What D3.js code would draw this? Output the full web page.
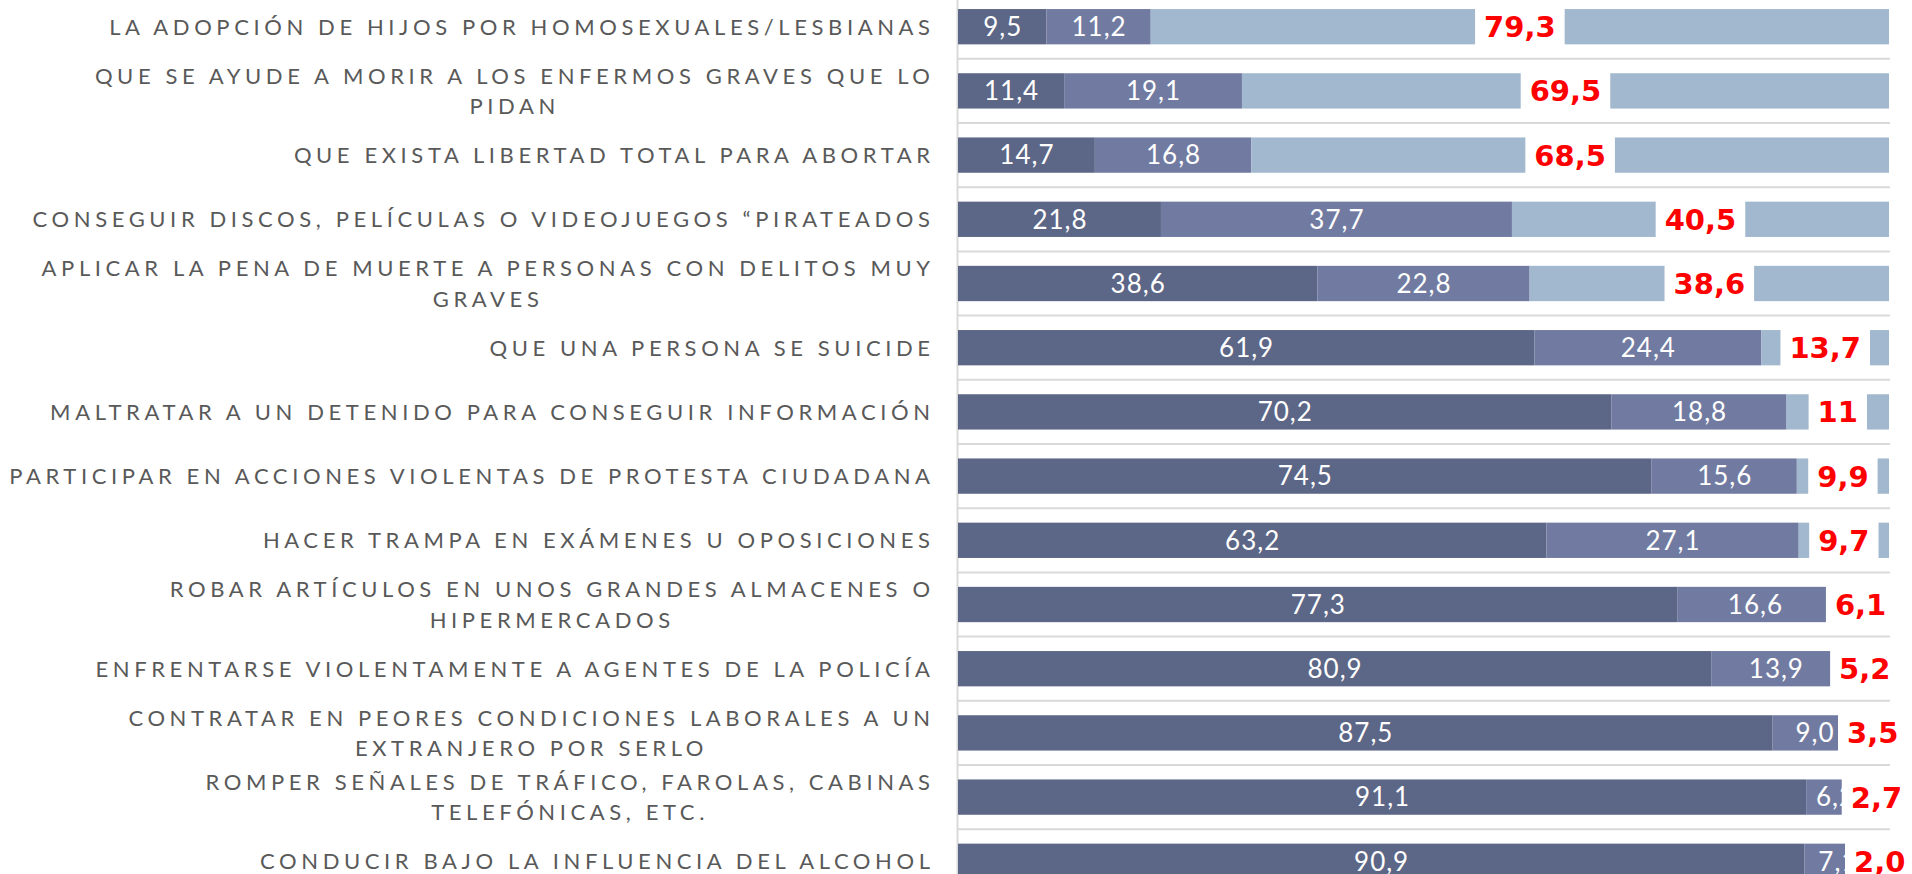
<!DOCTYPE html>
<html><head><meta charset="utf-8">
<script src="https://cdn.jsdelivr.net/npm/d3@7/dist/d3.min.js"></script>
<style>html,body{margin:0;padding:0;background:#fff;overflow:hidden}</style>
</head><body>
<svg id="chart" width="1912" height="874"></svg>
<script>
// ---- data ----
const categories = [
  "LA ADOPCIÓN DE HIJOS POR HOMOSEXUALES/LESBIANAS",
  "QUE SE AYUDE A MORIR A LOS ENFERMOS GRAVES QUE LO|PIDAN",
  "QUE EXISTA LIBERTAD TOTAL PARA ABORTAR",
  "CONSEGUIR DISCOS, PELÍCULAS O VIDEOJUEGOS “PIRATEADOS",
  "APLICAR LA PENA DE MUERTE A PERSONAS CON DELITOS MUY|GRAVES",
  "QUE UNA PERSONA SE SUICIDE",
  "MALTRATAR A UN DETENIDO PARA CONSEGUIR INFORMACIÓN",
  "PARTICIPAR EN ACCIONES VIOLENTAS DE PROTESTA CIUDADANA",
  "HACER TRAMPA EN EXÁMENES U OPOSICIONES",
  "ROBAR ARTÍCULOS EN UNOS GRANDES ALMACENES O|HIPERMERCADOS",
  "ENFRENTARSE VIOLENTAMENTE A AGENTES DE LA POLICÍA",
  "CONTRATAR EN PEORES CONDICIONES LABORALES A UN|EXTRANJERO POR SERLO",
  "ROMPER SEÑALES DE TRÁFICO, FAROLAS, CABINAS|TELEFÓNICAS, ETC.",
  "CONDUCIR BAJO LA INFLUENCIA DEL ALCOHOL"
];
const serie1 = [9.5, 11.4, 14.7, 21.8, 38.6, 61.9, 70.2, 74.5, 63.2, 77.3, 80.9, 87.5, 91.1, 90.9];
const serie2 = [11.2, 19.1, 16.8, 37.7, 22.8, 24.4, 18.8, 15.6, 27.1, 16.6, 13.9, 9.0, 6.2, 7.1];
const serie3 = [79.3, 69.5, 68.5, 40.5, 38.6, 13.7, 11, 9.9, 9.7, 6.1, 5.2, 3.5, 2.7, 2.0];
const serie3Labels = ["79,3","69,5","68,5","40,5","38,6","13,7","11","9,9","9,7","6,1","5,2","3,5","2,7","2,0"];
const seriesKeys = ["serie1", "serie2", "serie3"];
const xDomain = [0, 100];

// ---- layout ----
const W = 1912, H = 874;
const plotLeft = 958, plotRight = 1889;
const bandTop = -5.4, step = 64.2;
const colors = {serie1: "#5c6686", serie2: "#717ba1", serie3: "#a2b8cf"};

const rows = categories.map((c, i) => ({cat: c, serie1: serie1[i], serie2: serie2[i], serie3: serie3[i], lab3: serie3Labels[i]}));

const svg = d3.select("#chart");
const x = d3.scaleLinear().domain(xDomain).range([plotLeft, plotRight]);
const y = d3.scaleBand().domain(categories)
  .range([bandTop, bandTop + step * categories.length])
  .paddingInner(0.45).paddingOuter(0.225);

// gridlines at band boundaries
const gridYs = categories.slice(1).map(c => y(c) - y.step() * y.paddingInner() / 2);
svg.append("g").selectAll("line").data(gridYs).join("line")
  .attr("x1", plotLeft).attr("x2", plotRight + 1)
  .attr("y1", d => d).attr("y2", d => d)
  .attr("stroke", "#d9d9d9").attr("stroke-width", 2);

// axis
const axis = svg.append("g").attr("transform", `translate(${plotLeft - 1},0)`)
  .call(d3.axisLeft(y).tickSize(0).tickFormat(""));
axis.select(".domain").attr("stroke", "#d9d9d9").attr("stroke-width", 2);

// stacked bars
const stack = d3.stack().keys(seriesKeys)(rows);
const gBars = svg.append("g");
stack.forEach(layer => {
  gBars.append("g").attr("fill", colors[layer.key])
    .selectAll("rect").data(layer).join("rect")
    .attr("x", d => x(d[0]))
    .attr("width", d => x(d[1]) - x(d[0]))
    .attr("y", d => y(d.data.cat))
    .attr("height", y.bandwidth());
});

// white value labels for serie1 & serie2
const fmt = v => d3.format(".1f")(v).replace(".", ",");
const gLab = svg.append("g").attr("fill", "#fff")
  .attr("font-family", "Lato, 'Open Sans', sans-serif").attr("font-size", 26)
  .attr("letter-spacing", 1).attr("text-anchor", "middle");
stack.slice(0, 2).forEach(layer => {
  gLab.selectAll(null).data(layer).join("text")
    .attr("x", d => (x(d[0]) + x(d[1])) / 2 + 0.5)
    .attr("y", d => y(d.data.cat) + y.bandwidth() / 2)
    .attr("dy", "0.36em")
    .text(d => fmt(d[1] - d[0]));
});

// red labels for serie3 with white box
const gRed = svg.append("g");
stack[2].forEach(d => {
  const cx = (x(d[0]) + x(d[1])) / 2;
  const cy = y(d.data.cat) + y.bandwidth() / 2;
  const g = gRed.append("g");
  const rect = g.append("rect").attr("fill", "#fff");
  const t = g.append("text")
    .attr("x", cx).attr("y", cy).attr("dy", "0.36em")
    .attr("text-anchor", "middle")
    .attr("font-family", "'DejaVu Sans', sans-serif").attr("font-weight", "bold")
    .attr("font-size", 29).attr("fill", "#ff0000")
    .text(d.data.lab3);
  const bb = t.node().getBBox();
  rect.attr("x", bb.x - 9).attr("width", bb.width + 18)
    .attr("y", y(d.data.cat) - 2).attr("height", y.bandwidth() + 4);
});

// category labels
const ls = 4.6;
const gCat = svg.append("g").attr("fill", "#595959")
  .attr("font-family", "Lato, 'Open Sans', sans-serif").attr("font-size", 22)
  .attr("letter-spacing", ls);
const labelRight = 930 + ls;
const lineH = 30.5;
categories.forEach(c => {
  const lines = c.split("|");
  const cy = y(c) + y.bandwidth() / 2;
  const texts = lines.map((ln, j) => gCat.append("text")
    .attr("y", cy + (j - (lines.length - 1) / 2) * lineH)
    .attr("dy", "0.36em").text(ln));
  const widths = texts.map(t => t.node().getComputedTextLength());
  const maxW = d3.max(widths);
  const center = labelRight - maxW / 2;
  texts.forEach(t => t.attr("x", center).attr("text-anchor", "middle"));
});
</script>
</body></html>
